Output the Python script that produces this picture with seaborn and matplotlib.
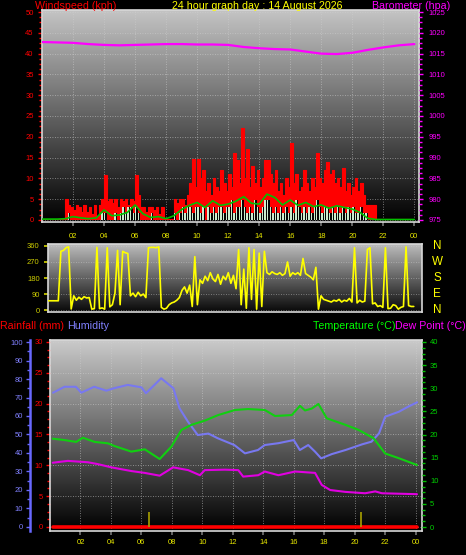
import numpy as np
import matplotlib
matplotlib.use('Agg')
import matplotlib.pyplot as plt
from matplotlib.colors import LinearSegmentedColormap
from matplotlib.ticker import MultipleLocator, AutoMinorLocator
from matplotlib.transforms import blended_transform_factory
import seaborn as sns

# ---------------- datos ----------------
titulo = '24 hour graph day : 14 August 2026'
horas_ticks = [2, 4, 6, 8, 10, 12, 14, 16, 18, 20, 22, 24]
horas_etiquetas = ['02', '04', '06', '08', '10', '12', '14', '16', '18', '20', '22', '00']

# rachas de viento (kph), cada 10 minutos
rachas = [
    0.3, 0.3, 0.3, 0.3, 0.3, 0.3,
    0.3, 0.3, 0.3, 5.0, 3.6, 3.0,
    2.5, 3.5, 3.0, 2.0, 3.5, 2.0,
    3.0, 1.5, 3.5, 1.0, 3.5, 5.0,
    10.8, 4.5, 5.0, 4.0, 5.0, 3.0,
    5.0, 4.5, 5.0, 3.5, 5.0, 4.5,
    10.8, 6.0, 3.0, 3.0, 2.0, 3.0,
    3.0, 2.5, 3.0, 1.5, 3.0, 0.3,
    0.3, 0.3, 0.3, 5.0, 4.0, 5.0,
    5.0, 3.5, 6.0, 9.0, 14.7, 8.0,
    14.7, 10.0, 12.0, 7.0, 9.0, 6.0,
    10.0, 8.0, 7.0, 12.0, 9.0, 7.0,
    11.0, 8.0, 16.0, 14.4, 9.0, 22.0,
    10.0, 17.0, 8.0, 13.0, 9.0, 12.0,
    8.0, 10.0, 14.4, 14.4, 11.0, 9.0,
    12.0, 7.0, 9.0, 6.0, 10.0, 8.0,
    18.4, 9.0, 11.0, 7.0, 8.0, 12.0,
    9.0, 7.0, 10.0, 8.0, 16.0, 10.0,
    9.0, 12.0, 14.0, 11.0, 12.0, 9.0,
    10.0, 8.0, 12.4, 7.0, 9.0, 6.0,
    8.0, 10.0, 7.0, 9.0, 6.0, 3.6,
    3.6, 3.6, 3.6, 0.3, 0.3, 0.3,
    0.3, 0.3, 0.3, 0.3, 0.3, 0.3,
    0.3, 0.3, 0.3, 0.3, 0.3, 0.3,
]

# velocidad del viento (kph), cada 10 minutos
viento = [
    0, 0, 0, 0, 0, 0,
    0, 0, 0, 0, 1.6, 0,
    0, 0, 0, 0, 0, 0,
    0, 0, 0, 0, 0, 1.6,
    1.6, 0, 0, 0, 1.6, 0,
    1.6, 3.2, 1.6, 3.2, 3.2, 1.6,
    3.2, 1.6, 0, 0, 0, 0,
    1.6, 0, 0, 0, 0, 0,
    0, 0, 0, 1.6, 0, 1.6,
    3.2, 1.6, 3.2, 3.2, 1.6, 3.2,
    3.2, 1.6, 3.2, 0, 3.2, 1.6,
    3.2, 1.6, 3.2, 3.2, 1.6, 3.2,
    3.2, 4.8, 1.6, 3.2, 3.2, 4.8,
    3.2, 1.6, 3.2, 1.6, 4.8, 3.2,
    1.6, 3.2, 4.8, 4.8, 3.2, 1.6,
    3.2, 1.6, 3.2, 1.6, 3.2, 1.6,
    3.2, 1.6, 4.8, 3.2, 1.6, 3.2,
    1.6, 3.2, 1.6, 3.2, 4.8, 3.2,
    1.6, 3.2, 3.2, 1.6, 3.2, 1.6,
    3.2, 1.6, 3.2, 1.6, 3.2, 1.6,
    3.2, 1.6, 1.6, 3.2, 1.6, 1.6,
    0, 0, 0, 0, 0, 0,
    0, 0, 0, 0, 0, 0,
    0, 0, 0, 0, 0, 0,
]

# viento medio (kph), cada 30 minutos
viento_medio = [
    0.2, 0.2, 0.2, 0.3, 0.8, 0.5, 0.3, 0.5, 2.4, 1.0,
    1.2, 1.8, 3.6, 1.5, 0.6, 0.8, 0.3, 1.0, 2.5, 3.5,
    4.2, 3.0, 4.6, 3.5, 3.8, 4.5, 5.6, 4.0, 3.8, 6.2,
    5.4, 3.6, 4.8, 3.5, 4.2, 3.2, 3.6, 2.8, 3.4, 3.0,
    2.6, 1.8, 0.4, 0.1, 0.1, 0.1, 0.1, 0.1, 0.1,
]

# barometro (hpa), cada hora
barometro = [
    1017.8, 1017.7, 1017.6, 1017.3, 1017.1, 1017.0, 1017.1, 1017.2, 1017.3,
    1017.3, 1017.2, 1017.2, 1017.1, 1016.6, 1016.3, 1016.1, 1016.0, 1015.5,
    1015.0, 1014.9, 1015.2, 1015.9, 1016.5, 1017.0, 1017.3,
]

# direccion del viento (grados), cada 10 minutos
direccion = [
    52, 52, 52, 52, 52, 330,
    335, 350, 355, 6, 80, 55,
    72, 60, 75, 68, 70, 5,
    8, 352, 8, 12, 5, 350,
    18, 30, 95, 335, 30, 330,
    322, 318, 80, 95, 75, 100,
    80, 90, 70, 350, 352, 352,
    350, 355, 15, 5, 10, 30,
    40, 45, 55, 70, 110, 130,
    95, 140, 20, 300, 30, 170,
    150, 190, 165, 210, 175, 160,
    200, 145, 190, 170, 210, 150,
    195, 120, 340, 30, 230, 10,
    350, 60, 340, 5, 320, 20,
    330, 210, 200, 215, 205, 200,
    210, 195, 205, 270, 190, 210,
    200, 210, 195, 290, 205, 195,
    185, 170, 240, 5, 80, 60,
    55, 50, 45, 55, 50, 60,
    45, 55, 50, 65, 45, 350,
    40, 55, 45, 50, 340, 350,
    35, 40, 20, 25, 15, 350,
    8, 10, 30, 25, 5, 15,
    20, 355, 25, 20, 20,
]
rumbos = ['N', 'W', 'S', 'E', 'N']
rumbos_grados = [360, 270, 180, 90, 0]

# humedad (%)
hum_horas = [0.2, 0.95, 1.7, 2.05, 2.9, 3.7, 4.2, 5.1, 6.0, 6.3, 7.3, 8.1,
             8.5, 9.05, 9.7, 10.4, 11.0, 12.1, 12.8, 13.65, 14.1, 15.0, 16.0,
             16.4, 16.95, 17.4, 17.8, 18.5, 19.4, 20.5, 21.1, 21.6, 22.0,
             22.9, 23.5, 24.1]
humedad = [72.6, 75.8, 75.8, 72.6, 75.8, 73.7, 75.0, 76.8, 75.5, 72.3, 80.4,
           75.0, 64.2, 57.0, 49.7, 50.5, 48.0, 44.3, 39.8, 41.6, 44.3, 45.3,
           47.0, 41.6, 44.3, 40.7, 37.1, 39.4, 41.6, 44.7, 46.1, 50.6, 59.6,
           62.3, 65.0, 67.4]

# temperatura (C)
temp_horas = [0.18, 0.95, 1.72, 2.16, 2.93, 3.8, 4.24, 5.34, 6.22, 7.2, 7.97,
              8.63, 9.29, 10.16, 11.04, 12.14, 13.0, 14.1, 14.77, 15.87, 16.41,
              16.74, 17.18, 17.62, 18.17, 19.38, 20.25, 21.24, 22.0, 22.88,
              24.09]
temperatura = [19.1, 18.8, 18.4, 19.3, 18.4, 18.1, 17.5, 16.3, 16.8, 14.7,
               17.4, 21.0, 22.1, 23.0, 24.2, 25.3, 25.5, 25.3, 24.0, 24.2,
               26.2, 25.2, 25.6, 26.6, 23.5, 22.1, 21.0, 19.2, 15.9, 14.9,
               13.4]

# punto de rocio (C)
rocio_horas = [0.18, 1.17, 2.49, 3.14, 4.03, 5.34, 6.22, 7.2, 8.08, 9.07,
               9.84, 10.16, 11.48, 12.36, 12.68, 13.67, 14.1, 14.99, 16.09,
               17.4, 17.84, 18.39, 19.38, 20.69, 21.35, 21.79, 24.09]
rocio = [13.9, 14.3, 14.0, 13.6, 12.9, 12.1, 11.7, 11.1, 12.9, 12.3, 11.2,
         12.3, 12.4, 12.3, 10.9, 11.2, 12.0, 11.2, 12.0, 11.7, 9.1, 8.0, 7.6,
         7.3, 7.7, 7.3, 7.1]

# lluvia (mm)
lluvia_horas = [0.2, 24.1]
lluvia = [0.0, 0.0]
marcas_horas = [6.5, 20.4]
marcas_altura = [2.5, 2.5]

t_10min = np.arange(len(rachas)) / 6
t_dir = np.arange(len(direccion)) / 6
t_medio = np.arange(len(viento_medio)) / 2
t_baro = np.arange(len(barometro))

# ---------------- figura ----------------
sns.set_theme(style='dark')
plt.rcParams['font.family'] = ['Liberation Sans', 'DejaVu Sans']

W, H = 466, 555
fig = plt.figure(figsize=(W / 100, H / 100), dpi=100, facecolor='black')

ROJO = '#ff0000'
MAGENTA = '#ff00ff'
AMARILLO = '#ffff00'
AZUL = '#8080ff'
TICK = 5.5


def caja(x0, y0, x1, y1):
    return [x0 / W, 1 - y1 / H, (x1 - x0) / W, (y1 - y0) / H]


def fondo(ax, arriba, abajo):
    cmap = LinearSegmentedColormap.from_list('g', [abajo, arriba])
    grad = np.linspace(0, 1, 256).reshape(-1, 1)
    ax.imshow(grad, extent=[0, 1, 0, 1], transform=ax.transAxes, origin='lower',
              aspect='auto', cmap=cmap, zorder=0)
    for s in ax.spines.values():
        s.set_visible(True)
        s.set_color('#d8d8d8')
        s.set_linewidth(1.2)


def texto(x, y, s, color, ha='left'):
    fig.text(x / W, 1 - y / H, s, color=color, fontsize=7.7, ha=ha, va='center')


# ---- panel 1: viento y barometro
ax1 = fig.add_axes(caja(42, 10, 419, 222))
fondo(ax1, '#c4c4c4', '#000000')
ax1.fill_between(t_10min, 0, rachas, step='post', color=ROJO, lw=0, zorder=2)
sns.lineplot(x=t_10min, y=rachas, drawstyle='steps-post', color=ROJO, lw=0.8,
             ax=ax1, estimator=None, sort=False, zorder=2)
# zona oscura bajo la velocidad media, con columnas claras encima
ax1.fill_between(t_10min, 0, viento, step='post', color='#050505', lw=0, zorder=2.5)
ax1.bar(t_10min, viento, width=0.09, align='edge', color='#cdeccd', lw=0, zorder=3)
sns.lineplot(x=t_medio, y=viento_medio, color='#00c000', lw=1.2, ax=ax1,
             estimator=None, sort=False, zorder=4)
ax1.set_xlim(0, 24.3)
ax1.set_ylim(-0.5, 50.5)
ax1.set_autoscale_on(False)
ax1.yaxis.set_major_locator(MultipleLocator(5))
ax1.yaxis.set_minor_locator(AutoMinorLocator(4))
ax1.set_xticks(horas_ticks)
ax1.set_xticklabels(horas_etiquetas)
ax1.tick_params(axis='y', left=True, which='both', colors=ROJO, labelcolor=ROJO,
                labelsize=TICK, length=3, width=1, pad=3)
ax1.tick_params(axis='y', which='minor', length=2)
ax1.tick_params(axis='x', bottom=True, colors='#707070', labelcolor='#e8e800',
                labelsize=TICK, length=3, pad=5)
ax1.grid(True, axis='both', color='#d0d0d0', linestyle=(0, (1, 2)), lw=0.6, alpha=0.7)
ax1.set_xlabel('')
ax1.set_ylabel('')

ax1b = ax1.twinx()
sns.lineplot(x=t_baro, y=barometro, color=MAGENTA, lw=1.6, ax=ax1b,
             estimator=None, sort=False)
ax1b.set_ylim(974.5, 1025.5)
ax1b.yaxis.set_major_locator(MultipleLocator(5))
ax1b.yaxis.set_minor_locator(AutoMinorLocator(4))
ax1b.tick_params(axis='y', right=True, which='both', colors=MAGENTA,
                 labelcolor=MAGENTA, labelsize=TICK, length=3, width=1, pad=4)
ax1b.tick_params(axis='y', which='minor', length=2)
ax1b.grid(False)
ax1b.set_ylabel('')
for s in ax1b.spines.values():
    s.set_visible(False)

# ---- panel 2: direccion
ax2 = fig.add_axes(caja(48, 244, 422, 312))
fondo(ax2, '#bcbcbc', '#080808')
sns.lineplot(x=t_dir, y=direccion, color=AMARILLO, lw=1.2, ax=ax2,
             estimator=None, sort=False, zorder=3)
ax2.set_xlim(0, 24.2)
ax2.set_ylim(-11, 371)
ax2.set_autoscale_on(False)
ax2.set_yticks([0, 90, 180, 270, 360])
ax2.set_xticks([])
ax2.tick_params(axis='y', left=True, colors='#cccc00', labelcolor='#cccc00',
                labelsize=TICK, length=3, pad=3)
ax2.grid(True, axis='y', color='#d0d0d0', linestyle=(0, (1, 2)), lw=0.6, alpha=0.6)
ax2.set_xlabel('')
ax2.set_ylabel('')
tr = blended_transform_factory(ax2.transAxes, ax2.transData)
for letra, grados in zip(rumbos, rumbos_grados):
    ax2.text(1.04, grados, letra, transform=tr, color=AMARILLO, fontsize=8.4,
             ha='center', va='center', clip_on=False)

# ---- panel 3: lluvia, humedad, temperatura
ax3 = fig.add_axes(caja(50, 340, 421.7, 531))
fondo(ax3, '#cacaca', '#000000')
sns.lineplot(x=lluvia_horas, y=lluvia, color=ROJO, lw=2.6, ax=ax3,
             estimator=None, sort=False, zorder=3)
ax3.vlines(marcas_horas, 0, marcas_altura, color='#a8a000', lw=1.2, zorder=3)
ax3.set_xlim(0, 24.4)
ax3.set_ylim(-0.65, 30.32)
ax3.set_autoscale_on(False)
ax3.yaxis.set_major_locator(MultipleLocator(5))
ax3.yaxis.set_minor_locator(AutoMinorLocator(4))
ax3.set_xticks(horas_ticks)
ax3.set_xticklabels(horas_etiquetas)
ax3.tick_params(axis='y', left=True, which='both', colors=ROJO, labelcolor=ROJO,
                labelsize=TICK, length=3, width=1, pad=2)
ax3.tick_params(axis='y', which='minor', length=2)
ax3.tick_params(axis='x', bottom=True, colors='#707070', labelcolor='#e8e800',
                labelsize=TICK, length=3, pad=3)
ax3.grid(True, axis='both', color='#d0d0d0', linestyle=(0, (1, 2)), lw=0.6, alpha=0.7)
ax3.set_xlabel('')
ax3.set_ylabel('')

ax3h = ax3.twinx()
sns.lineplot(x=hum_horas, y=humedad, color='#7878f0', lw=1.5, ax=ax3h,
             estimator=None, sort=False)
ax3h.set_ylim(-2.2, 101.1)
ax3h.set_xlim(0, 24.4)
ax3h.yaxis.set_ticks_position('left')
ax3h.yaxis.set_label_position('left')
for s in ax3h.spines.values():
    s.set_visible(False)
ax3h.spines['left'].set_visible(True)
ax3h.spines['left'].set_position(('outward', 14.5))
ax3h.spines['left'].set_color('#6868ff')
ax3h.spines['left'].set_linewidth(1.8)
ax3h.yaxis.set_major_locator(MultipleLocator(10))
ax3h.yaxis.set_minor_locator(AutoMinorLocator(2))
ax3h.tick_params(axis='y', left=True, right=False, which='both', colors='#6868ff',
                 labelcolor=AZUL, labelsize=TICK, length=3, width=1, pad=2)
ax3h.tick_params(axis='y', which='minor', length=2)
ax3h.grid(False)
ax3h.set_ylabel('')

ax3t = ax3.twinx()
sns.lineplot(x=temp_horas, y=temperatura, color='#10d010', lw=1.5, ax=ax3t,
             estimator=None, sort=False)
sns.lineplot(x=rocio_horas, y=rocio, color='#e000e0', lw=1.5, ax=ax3t,
             estimator=None, sort=False)
ax3t.set_ylim(-0.86, 40.43)
ax3t.set_xlim(0, 24.4)
for s in ax3t.spines.values():
    s.set_visible(False)
ax3t.yaxis.set_major_locator(MultipleLocator(5))
ax3t.yaxis.set_minor_locator(AutoMinorLocator(4))
ax3t.tick_params(axis='y', right=True, which='both', colors='#00c000',
                 labelcolor='#00d000', labelsize=TICK, length=3, width=1, pad=3)
ax3t.tick_params(axis='y', which='minor', length=2)
ax3t.grid(False)
ax3t.set_ylabel('')

# ---- textos
texto(35, 6, 'Windspeed (kph)', ROJO)
texto(257, 6, titulo, AMARILLO, ha='center')
texto(372, 6, 'Barometer (hpa)', MAGENTA)
texto(0, 326, 'Rainfall (mm)', ROJO)
texto(67, 326, 'Humidity', AZUL)
texto(313, 326, 'Temperature (°C)', '#00ff00')
texto(395, 326, 'Dew Point (°C)', MAGENTA)

fig.savefig('out.png', dpi=100, facecolor='black')
